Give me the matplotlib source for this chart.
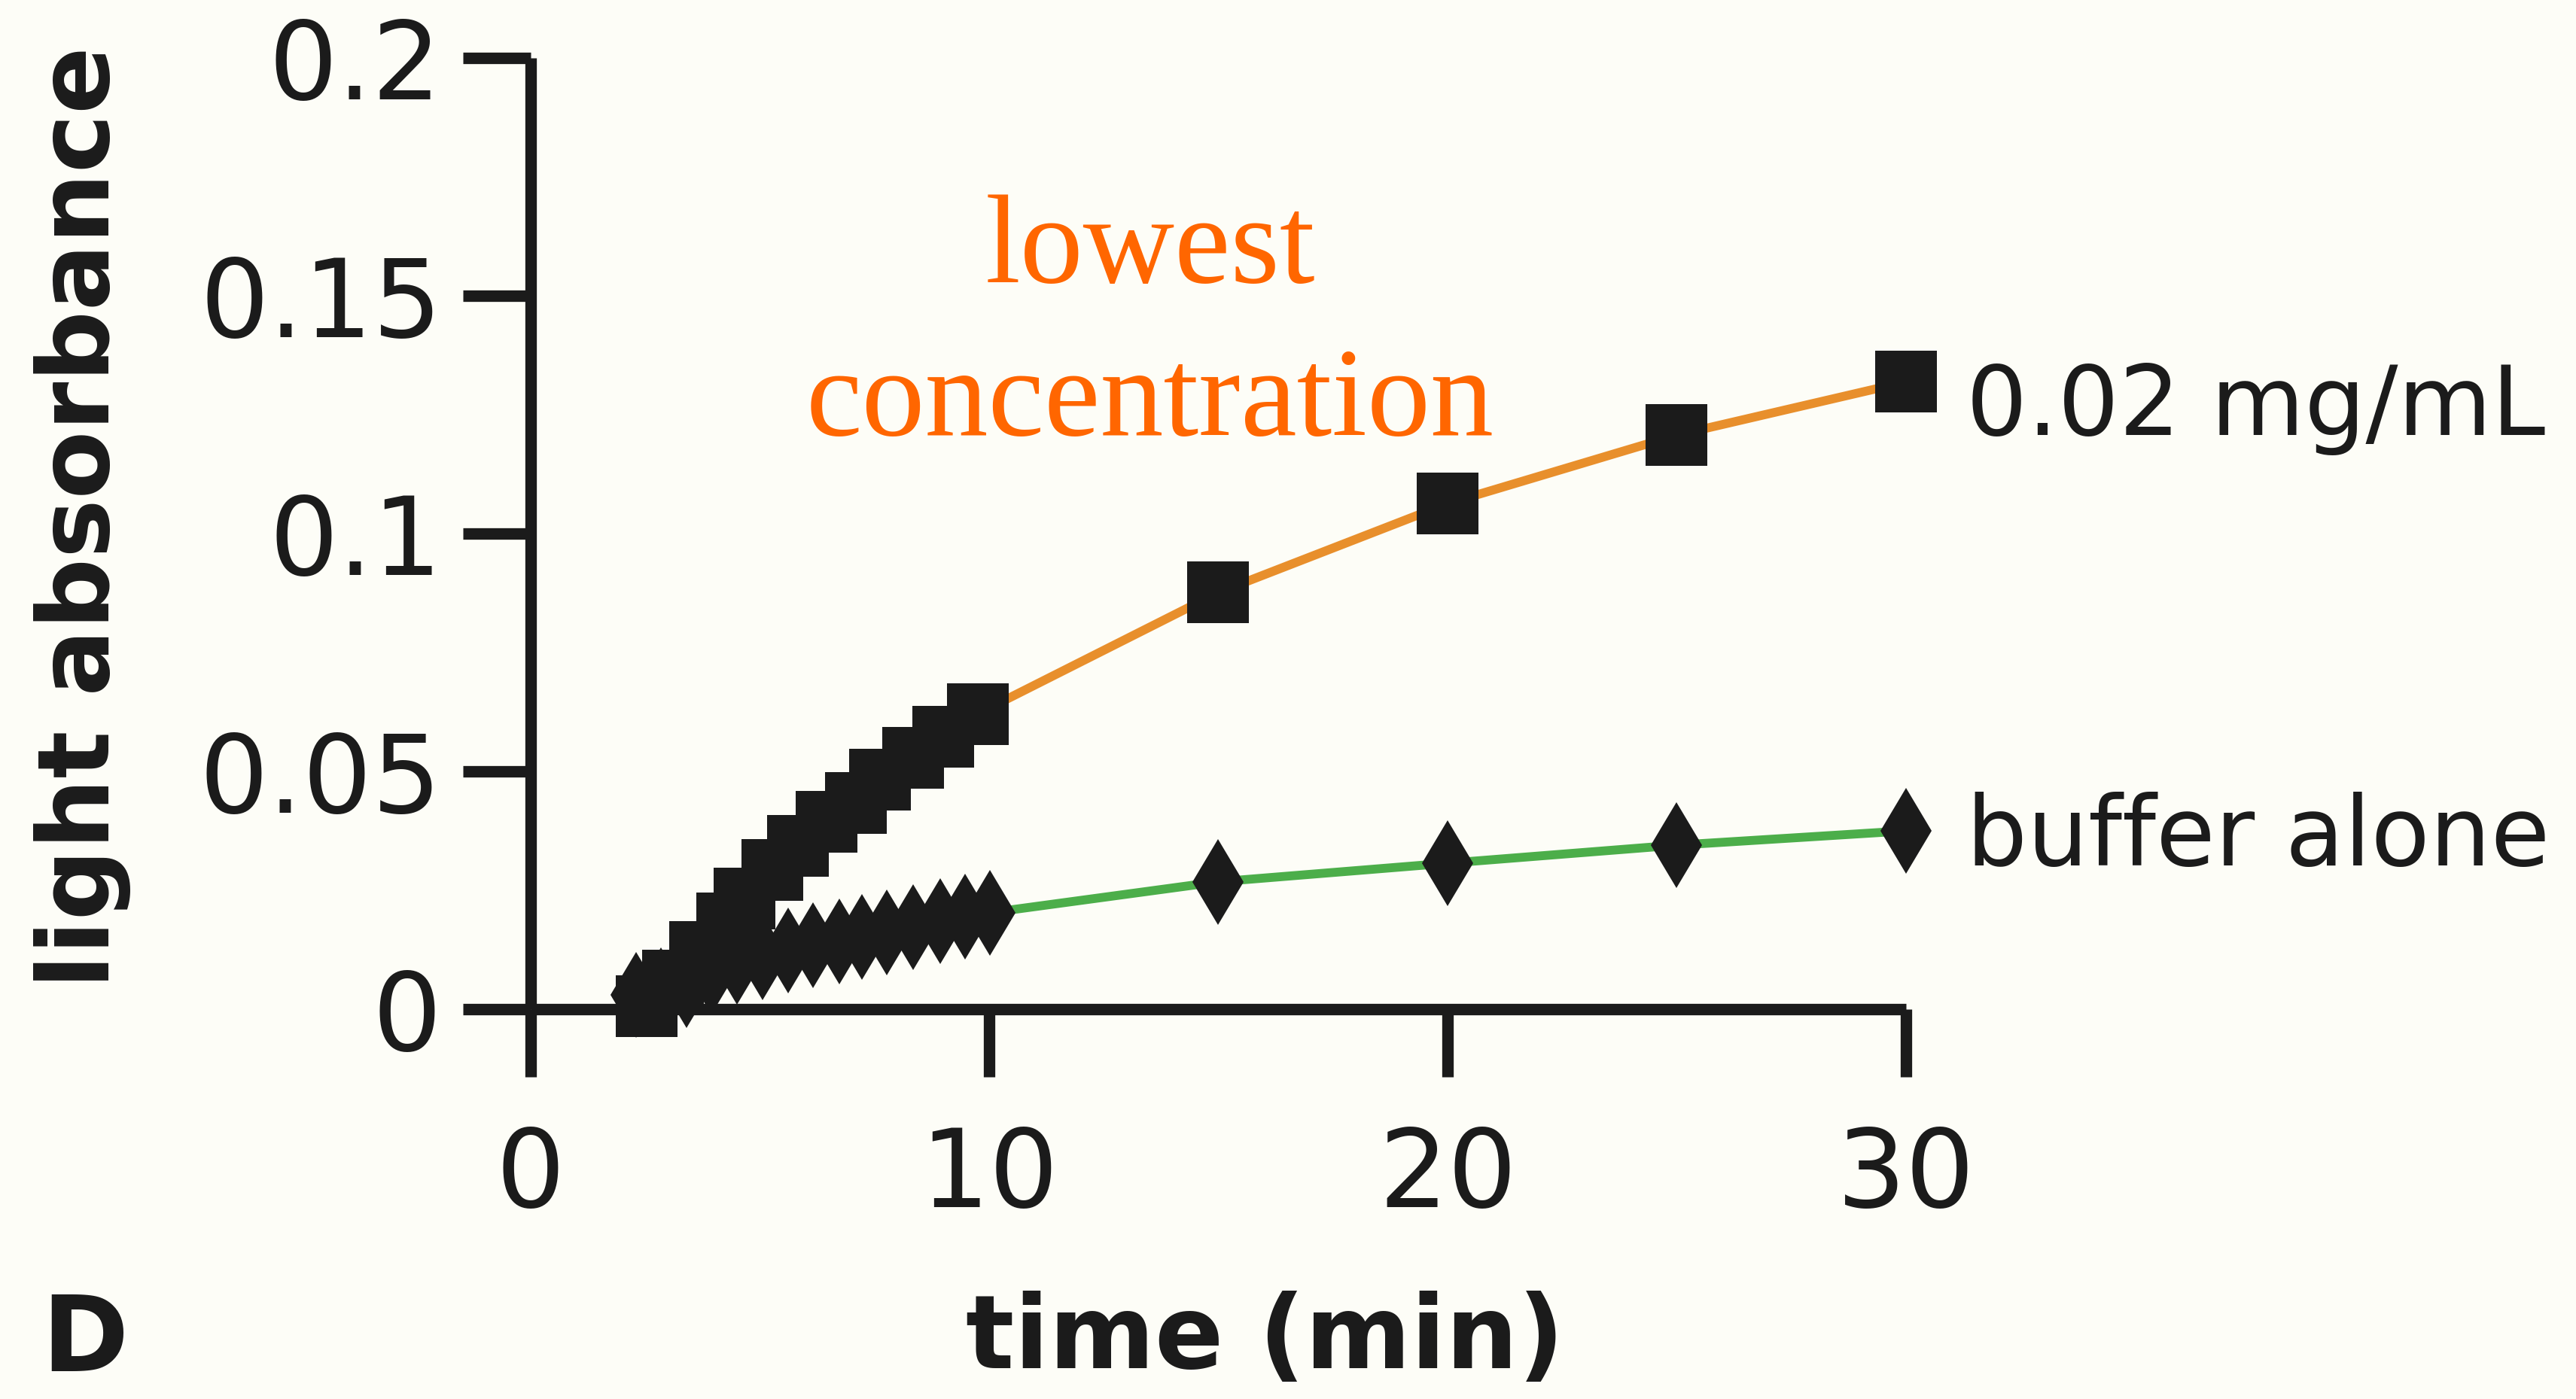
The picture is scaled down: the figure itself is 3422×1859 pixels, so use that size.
import numpy as np
import matplotlib.pyplot as plt

# data
sq_t = [2.53, 3.1, 3.7, 4.28, 4.66, 5.27, 5.83, 6.45, 7.09, 7.62, 8.34, 9.0, 9.75, 15, 20, 25, 30]
sq_y = [0.0006, 0.006, 0.012, 0.018, 0.0233, 0.0293, 0.0344, 0.0394, 0.0434, 0.0483, 0.0529, 0.0573, 0.0621,
        0.0876, 0.1063, 0.1207, 0.1319]
di_t = [2.3, 2.85, 3.4, 3.95, 4.5, 5.06, 5.62, 6.16, 6.73, 7.22, 7.77, 8.34, 8.93, 9.47, 10.02, 15, 20, 25, 30]
di_y = [0.003, 0.004, 0.005, 0.008, 0.0100, 0.011, 0.0124, 0.0135, 0.0143, 0.0152, 0.0162, 0.0173, 0.0186,
        0.0194, 0.0203, 0.0268, 0.0307, 0.0345, 0.0375]
xticks = [0, 10, 20, 30]
yticks = [0, 0.05, 0.1, 0.15, 0.2]
ytick_labels = ['0', '0.05', '0.1', '0.15', '0.2']

ink = '#1b1b1b'
fig = plt.figure(figsize=(34.22, 18.59), dpi=100, facecolor='#fdfdf7')
ax = fig.add_axes([0.2060, 0.2786, 0.5339, 0.6800])
ax.set_facecolor('none')

ax.plot(sq_t, sq_y, color='#e88f2c', lw=8.5, zorder=2, clip_on=False)
ax.plot(di_t, di_y, color='#4cae4a', lw=8.5, zorder=2, clip_on=False)
ax.plot(di_t, di_y, ls='none', marker='d', ms=58, color=ink, mew=0, zorder=3, clip_on=False)
ax.plot(sq_t, sq_y, ls='none', marker='s', ms=59, color=ink, mew=0, zorder=4, clip_on=False)

ax.set_xlim(0, 30)
ax.set_ylim(0, 0.2)
for s in ['top', 'right']:
    ax.spines[s].set_visible(False)
for s in ['left', 'bottom']:
    ax.spines[s].set_linewidth(11)
    ax.spines[s].set_color(ink)
    ax.spines[s].set_capstyle('butt')
ax.set_xticks(xticks)
ax.set_xticklabels([str(v) for v in xticks])
ax.set_yticks(yticks)
ax.set_yticklabels(ytick_labels)
ax.tick_params(direction='out', length=65, width=11, color=ink, labelsize=104, labelcolor=ink)
ax.tick_params(axis='y', pad=20)
ax.tick_params(axis='x', pad=45)

fig.text(0.0319, 0.6305, 'light absorbance', rotation=90, ha='center', va='center',
         fontsize=95, fontweight='bold', color=ink)
fig.text(0.491, 0.0221, 'time (min)', ha='center', va='baseline', fontsize=97, fontweight='bold', color=ink)
fig.text(0.016, 0.0199, 'D', ha='left', va='baseline', fontsize=100, fontweight='bold', color=ink)

fig.text(0.7633, 0.6891, '0.02 mg/mL', ha='left', va='baseline', fontsize=92, color=ink)
fig.text(0.7633, 0.3814, 'buffer alone', ha='left', va='baseline', fontsize=92, color=ink)

fig.text(0.4465, 0.7983, 'lowest', ha='center', va='baseline', fontsize=121,
         family='Liberation Serif', color='#ff6600')
fig.text(0.4465, 0.6891, 'concentration', ha='center', va='baseline', fontsize=121,
         family='Liberation Serif', color='#ff6600')

fig.savefig('out.png', dpi=100, facecolor=fig.get_facecolor())
